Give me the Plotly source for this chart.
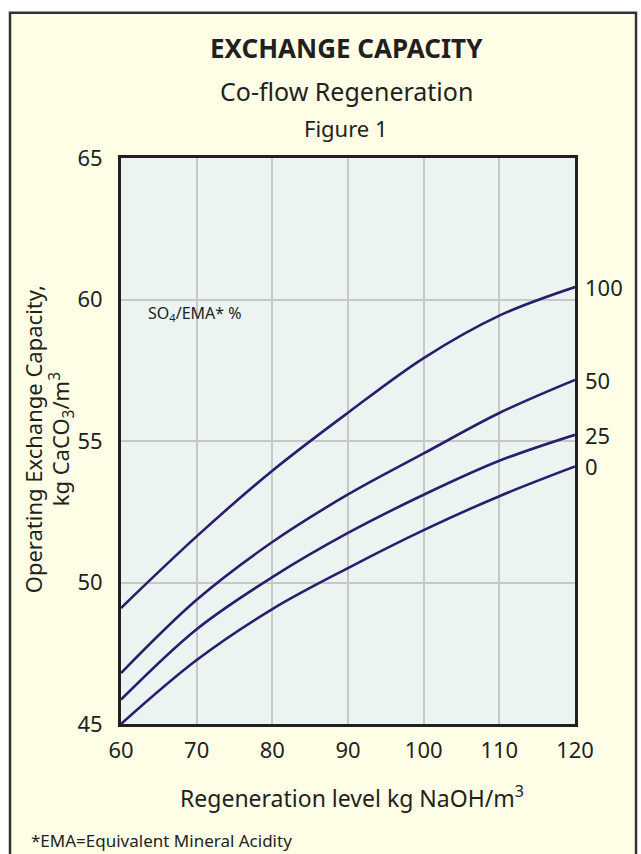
import plotly.graph_objects as go

# Regeneration level, kg NaOH/m3
regen_level = [60, 70, 80, 90, 100, 110, 120]

# Operating exchange capacity (kg CaCO3/m3) for each SO4/EMA percentage
series_labels = ["100", "50", "25", "0"]
capacity_100 = [49.1, 51.63, 53.95, 56.0, 57.93, 59.43, 60.44]
capacity_50 = [46.8, 49.39, 51.43, 53.11, 54.56, 55.99, 57.16]
capacity_25 = [45.86, 48.35, 50.19, 51.75, 53.1, 54.3, 55.22]
capacity_0 = [45.0, 47.26, 49.06, 50.51, 51.85, 53.05, 54.1]
series_values = [capacity_100, capacity_50, capacity_25, capacity_0]

x_ticks = [60, 70, 80, 90, 100, 110, 120]
y_ticks = [45, 50, 55, 60, 65]

FONT = "Noto Sans"
TEXT = "#231F20"
LINE = "#2A1D6E"

fig = go.Figure()

for label, values in zip(series_labels, series_values):
    fig.add_trace(go.Scatter(
        x=regen_level, y=values, mode="lines", name=label,
        line=dict(color=LINE, width=2.6, shape="spline", smoothing=1.0),
        hoverinfo="x+y", showlegend=False,
    ))
    fig.add_annotation(
        x=regen_level[-1], y=values[-1], xref="x", yref="y",
        text=label, showarrow=False, xanchor="left", yanchor="middle",
        xshift=8, font=dict(family=FONT, size=22, color=TEXT),
    )

# Outer framed panel and plot-area fill
fig.add_shape(type="rect", xref="paper", yref="paper",
              x0=-0.2445, x1=1.1344, y0=-0.30, y1=1.2565,
              fillcolor="#FEFEE6", line=dict(color="#333333", width=2.5),
              layer="below")
fig.add_shape(type="rect", xref="paper", yref="paper",
              x0=0, x1=1, y0=0, y1=1,
              fillcolor="#EBF4F0", line=dict(width=0), layer="below")


def note(x, y, text, size, xanchor="center", angle=0):
    fig.add_annotation(x=x, y=y, xref="paper", yref="paper", text=text,
                       showarrow=False, xanchor=xanchor, yanchor="middle",
                       textangle=angle,
                       font=dict(family=FONT, size=size, color=TEXT))


# Titles, centred over the plot area
title_x = (346 - 121) / 454
note(title_x, (724 - 48) / 566, "<b>EXCHANGE CAPACITY</b>", 26)
note(title_x, (724 - 91) / 566, "Co-flow Regeneration", 25)
note(title_x, (724 - 128) / 566, "Figure 1", 22)

# Series note inside the plot
fig.add_annotation(x=63.35, y=59.5, xref="x", yref="y", xanchor="left",
                   yanchor="middle", text="SO<sub>4</sub>/EMA* %",
                   showarrow=False, font=dict(family=FONT, size=16, color=TEXT))

# Axis titles
note((33 - 121) / 454, 0.503, "Operating Exchange Capacity,", 22, angle=-90)
note((61 - 121) / 454, 0.503, "kg CaCO<sub>3</sub>/m<sup>3</sup>", 22, angle=-90)
note((352 - 121) / 454, (724 - 797) / 566, "Regeneration level kg NaOH/m<sup>3</sup>", 23)

# Footnote
note((29 - 121) / 454, (724 - 840) / 566, "*EMA=Equivalent Mineral Acidity", 17,
     xanchor="left")

axis_common = dict(
    showline=True, linecolor=TEXT, linewidth=3, mirror=True,
    showgrid=True, gridcolor="#C8C8C8", gridwidth=1.5,
    zeroline=False, ticks="", tickfont=dict(family=FONT, size=22, color=TEXT),
)

fig.update_xaxes(range=[60, 120], tickvals=x_ticks, ticklabelstandoff=5, **axis_common)
fig.update_yaxes(range=[45, 65], tickvals=y_ticks, ticklabelstandoff=11, **axis_common)

fig.update_layout(
    width=641, height=854,
    margin=dict(l=121, r=66, t=158, b=130),
    paper_bgcolor="white", plot_bgcolor="rgba(0,0,0,0)",
    font=dict(family=FONT, color=TEXT),
)

fig.write_html("out.html")
